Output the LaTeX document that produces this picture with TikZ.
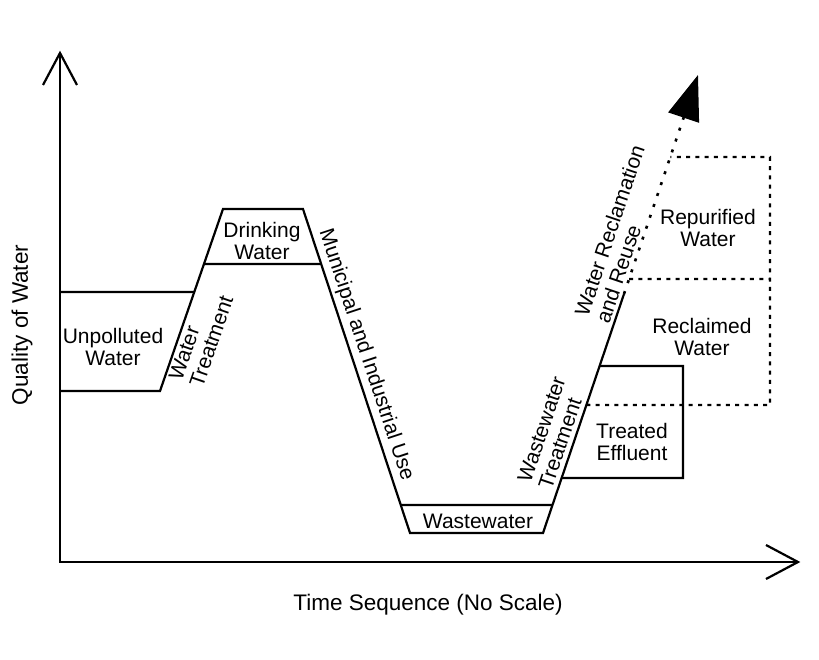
\documentclass[tikz,border=0pt]{standalone}
\usepackage{fontspec}
\setmainfont{Liberation Sans}
\usetikzlibrary{calc,arrows.meta}
\begin{document}
\begin{tikzpicture}[x=1pt,y=-1pt,
  lbl/.style={font=\fontsize{21}{22}\selectfont, align=center, inner sep=0pt},
  rlbl/.style={font=\fontsize{21}{22}\selectfont, align=left, inner sep=0pt},
  axlbl/.style={font=\fontsize{22.5}{24}\selectfont, inner sep=0pt},
  ln/.style={line width=2.2pt, line join=miter},
  dots/.style={line width=2.3pt, dash pattern=on 4pt off 5.3pt},
  sdots/.style={line width=2.6pt, dash pattern=on 3pt off 8.5pt}]
\useasboundingbox (0,0) rectangle (819,660);
% axes
\coordinate (O) at (60,562);
\coordinate (Ytip) at (60,53);
\coordinate (Xtip) at (798,562);
\draw[ln] (Ytip) -- (O) -- (Xtip);
\draw[ln] ($(Ytip)+(-17,32)$) -- (Ytip) -- ($(Ytip)+(17,32)$);
\draw[ln] ($(Xtip)+(-32,-17)$) -- (Xtip) -- ($(Xtip)+(-32,17)$);
% main curve
\coordinate (UL) at (60,292);
\coordinate (BL) at (60,391);
\coordinate (A) at (160,391);
\coordinate (B) at (223,209);
\coordinate (C) at (303,209);
\coordinate (E) at (410,533);
\coordinate (F) at (543,533);
\coordinate (G) at (624,294);
\coordinate (T) at (698,75);
\coordinate (U2) at ($(A)!0.544!(B)$);
\coordinate (D1) at ($(A)!0.698!(B)$);
\coordinate (D2) at ($(C)!0.170!(E)$);
\coordinate (W1) at ($(C)!0.9136!(E)$);
\coordinate (W2) at ($(F)!0.117!(G)$);
\coordinate (T1) at ($(F)!0.699!(G)$);
\coordinate (T2) at ($(F)!0.230!(G)$);
\coordinate (TR1) at (683,366);
\coordinate (TR2) at (683,478);
\coordinate (P1) at ($(F)!0.536!(G)$);
\coordinate (P2) at ($(G)!0.0685!(T)$);
\coordinate (P3) at ($(G)!0.6256!(T)$);
\coordinate (RB1) at (770,405);
\coordinate (RB2) at (770,157);
\coordinate (RB3) at (770,279);
\draw[ln] (BL) -- (A) -- (B) -- (C) -- (E) -- (F) -- (G);
\draw[ln] (UL) -- (U2);
\draw[ln] (D1) -- (D2);
\draw[ln] (W1) -- (W2);
\draw[ln] (T1) -- (TR1) -- (TR2) -- (T2);
\draw[sdots,-{Triangle[length=45pt,width=32pt]}] (G) -- (T);
\draw[dots] (P1) -- (RB1) -- (RB2) -- (P3);
\draw[dots] (P2) -- (RB3);
% labels
\node[lbl] (unp) at (113,347) {Unpolluted\\Water};
\node[lbl] (drink) at (262,241) {Drinking\\Water};
\node[lbl] (ww) at (478,521) {Wastewater};
\node[lbl] (te) at (632,442) {Treated\\Effluent};
\node[lbl] (rw) at (702,337) {Reclaimed\\Water};
\node[lbl] (rp) at (708,228) {Repurified\\Water};
\node[rlbl, rotate=70.9] (wt) at (201,338) {Water\\Treatment};
\node[lbl, rotate=-71.7] (mu) at (366,355) {Municipal and Industrial Use};
\node[rlbl, rotate=71.3] (wwt) at (552,433) {Wastewater\\Treatment};
\node[rlbl, rotate=71.3] (wrr) at (620,234) {Water Reclamation\\and Reuse};
\node[axlbl, rotate=90] (qw) at (22,325) {Quality of Water};
\node[axlbl] (ts) at (428,605) {Time Sequence (No Scale)};
\end{tikzpicture}
\end{document}
